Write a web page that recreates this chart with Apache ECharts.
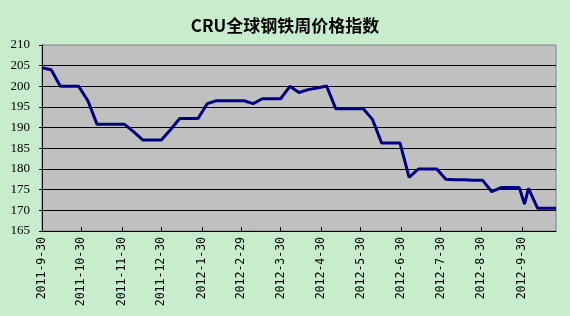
<!DOCTYPE html>
<html>
<head>
<meta charset="utf-8">
<script src="https://cdn.jsdelivr.net/npm/echarts@6/dist/echarts.min.js"></script>
<style>
html,body{margin:0;padding:0;background:#c7edcc;}
#c{width:570px;height:316px;}
</style>
</head>
<body>
<div id="c"></div>
<script>
const titleText = "CRU全球钢铁周价格指数";
const dates = ["2011-9-30","2011-10-7","2011-10-14","2011-10-21","2011-10-28","2011-11-4","2011-11-11","2011-11-18","2011-11-25","2011-12-2","2011-12-9","2011-12-16","2011-12-23","2011-12-30","2012-1-6","2012-1-13","2012-1-20","2012-1-27","2012-2-3","2012-2-10","2012-2-17","2012-2-24","2012-3-2","2012-3-9","2012-3-16","2012-3-23","2012-3-30","2012-4-6","2012-4-13","2012-4-20","2012-4-27","2012-5-4","2012-5-11","2012-5-18","2012-5-25","2012-6-1","2012-6-8","2012-6-15","2012-6-22","2012-6-29","2012-7-6","2012-7-13","2012-7-20","2012-7-27","2012-8-3","2012-8-10","2012-8-17","2012-8-24","2012-8-31","2012-9-7","2012-9-14","2012-9-21","2012-9-28","2012-10-2","2012-10-5","2012-10-12","2012-10-19","2012-10-26"];
const values = [204.5,204.0,200,200,200,196.5,190.8,190.8,190.8,190.8,189,187,187,187,189.5,192.2,192.2,192.2,195.8,196.5,196.5,196.5,196.5,195.8,197,197,197,200,198.5,199.2,199.6,200.1,194.6,194.6,194.6,194.6,192,186.3,186.3,186.3,178,180,180,180,177.5,177.4,177.4,177.3,177.3,174.5,175.5,175.5,175.5,171.5,175.3,170.5,170.5,170.5];
const xTickLabels = ["2011-9-30","2011-10-30","2011-11-30","2011-12-30","2012-1-30","2012-2-29","2012-3-30","2012-4-30","2012-5-30","2012-6-30","2012-7-30","2012-8-30","2012-9-30"];
const yMin = 165, yMax = 210, yStep = 5;

function toDay(s){
  const p = s.split('-').map(Number);
  return Math.round((Date.UTC(p[0],p[1]-1,p[2]) - Date.UTC(2011,8,30)) / 86400000);
}
const tickDays = xTickLabels.map(toDay);
const labelByDay = {};
xTickLabels.forEach((l,i)=>{labelByDay[tickDays[i]] = l;});
const seriesData = dates.map((d,i)=>[toDay(d), values[i]]);
const xMax = toDay(dates[dates.length-1]);

const chart = echarts.init(document.getElementById('c'), null, {renderer:'canvas'});
chart.setOption({
  backgroundColor: '#c7edcc',
  animation: false,
  title: {
    text: titleText,
    left: 'center',
    top: 12,
    textStyle: {fontFamily: '"Noto Sans CJK SC"', fontSize: 17, fontWeight: 'bold', color: '#000'}
  },
  grid: {
    left: 42, right: 14, top: 45, bottom: 85,
    show: true, backgroundColor: '#c0c0c0', borderColor: '#808080', borderWidth: 1
  },
  xAxis: {
    type: 'value',
    min: 0, max: xMax,
    axisLine: {show: true, lineStyle: {color: '#000', width: 1}},
    axisTick: {show: true, inside: true, length: 4, customValues: tickDays, lineStyle: {color: '#000'}},
    axisLabel: {
      show: true, rotate: 90, margin: 6, customValues: tickDays,
      fontFamily: '"DejaVu Sans Mono"', fontSize: 11.5, color: '#000',
      formatter: v => labelByDay[v] || ''
    },
    splitLine: {show: false}
  },
  yAxis: {
    type: 'value',
    min: yMin, max: yMax, interval: yStep,
    axisLine: {show: true, lineStyle: {color: '#000', width: 1}},
    axisTick: {show: true, inside: false, length: 3, lineStyle: {color: '#000'}},
    axisLabel: {margin: 12, fontFamily: '"Liberation Serif"', fontSize: 13, color: '#000'},
    splitLine: {show: true, showMinLine: false, showMaxLine: false, lineStyle: {color: '#000', width: 1}}
  },
  series: [{
    type: 'line',
    data: seriesData,
    showSymbol: false,
    symbol: 'none',
    lineStyle: {color: '#000080', width: 3},
    itemStyle: {color: '#000080'}
  }]
});
</script>
</body>
</html>
